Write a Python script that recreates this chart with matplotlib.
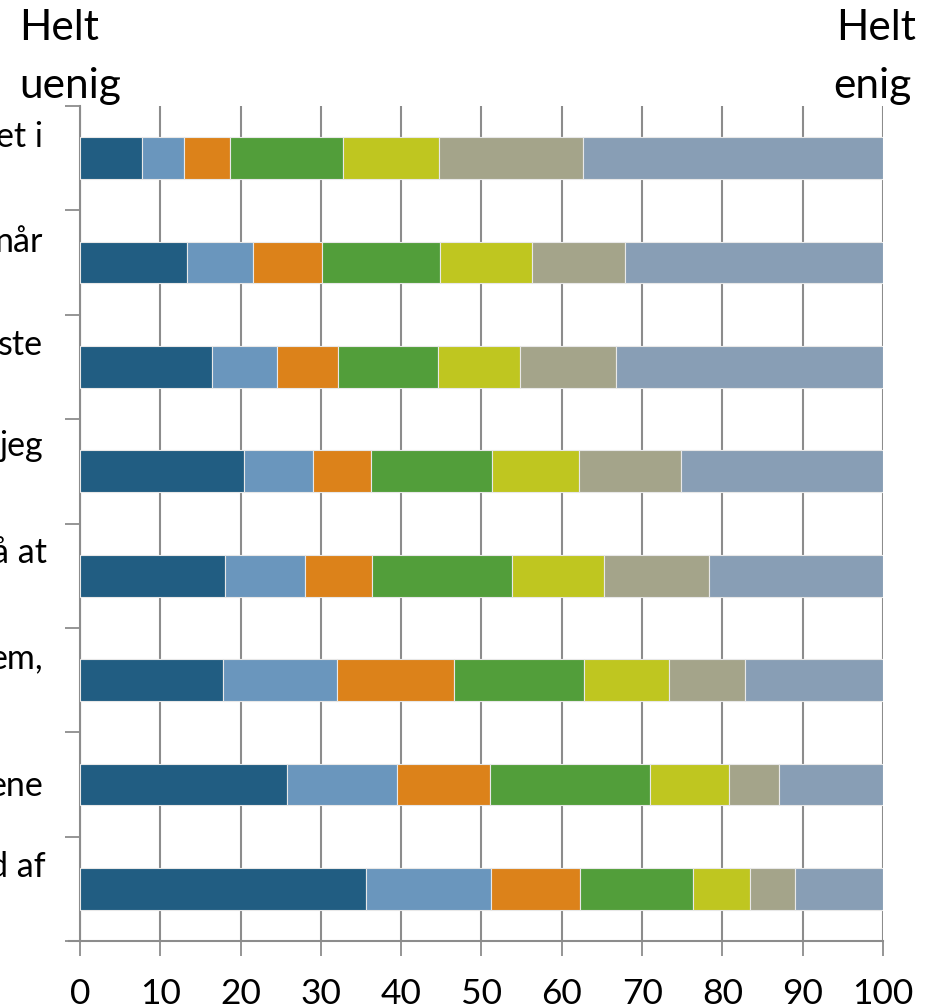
import matplotlib
matplotlib.use("Agg")
import matplotlib.pyplot as plt
import numpy as np

plt.rcParams["font.family"] = ["Lato", "DejaVu Sans"]

# answer shares per statement, from "helt uenig" to "helt enig" (percent)
row1 = [7.7, 5.3, 5.7, 14.0, 12.0, 17.9, 37.4]
row2 = [13.3, 8.3, 8.5, 14.7, 11.5, 11.6, 32.1]
row3 = [16.4, 8.1, 7.6, 12.5, 10.2, 11.9, 33.3]
row4 = [20.4, 8.6, 7.3, 15.0, 10.8, 12.7, 25.2]
row5 = [18.0, 10.0, 8.4, 17.4, 11.5, 13.0, 21.7]
row6 = [17.8, 14.2, 14.6, 16.2, 10.5, 9.5, 17.2]
row7 = [25.8, 13.7, 11.5, 20.0, 9.8, 6.3, 12.9]
row8 = [35.6, 15.6, 11.1, 14.0, 7.1, 5.6, 11.0]
rows = [row1, row2, row3, row4, row5, row6, row7, row8]

# what is left visible of each statement label at the left edge
labels = ["et i", "når", "ste", "jeg", "å at", "em,", "ene", "d af"]
label_dy = [11, 11, 12, 15, 13, 12, -12, 12]      # baseline shift above bar centre, px
label_dx = [-37, -37, -37, -37, -33, -37, -37, -34]  # right edge left of the axis, px

colors = ["#215d82", "#6a96bd", "#dc821a", "#529e3a",
          "#bfc620", "#a4a48a", "#889eb5"]
ticks = list(range(0, 101, 10))

GRID = "#8c8c8c"

fig = plt.figure(figsize=(9.32, 10.06), dpi=100)
ax = fig.add_axes([80 / 932, 1 - 941 / 1006, 803 / 932, 835 / 1006])

data = np.array(rows)
y = np.arange(len(rows))
left = np.zeros(len(rows))
for k in range(data.shape[1]):
    ax.barh(y, data[:, k], left=left, height=0.4, color=colors[k],
            edgecolor="#e8e8e8", linewidth=0.8, zorder=3)
    left += data[:, k]

ax.set_xlim(0, 100)
ax.set_ylim(len(rows) - 0.5, -0.5)
ax.set_xticks(ticks)
ax.set_xticklabels([str(t) for t in ticks], fontsize=25.5)
ax.set_yticks(np.arange(-0.5, len(rows), 1.0))
ax.set_yticklabels([])
ax.tick_params(axis="x", length=11, width=1.3, color=GRID, pad=16)
ax.tick_params(axis="y", length=11, width=1.3, color=GRID)
ax.xaxis.grid(True, color=GRID, lw=1.5, zorder=0)
ax.set_axisbelow(True)
for s in ("top", "right"):
    ax.spines[s].set_visible(False)
for s in ("left", "bottom"):
    ax.spines[s].set_color(GRID)
    ax.spines[s].set_linewidth(1.5)
ax.spines["bottom"].set_bounds(-1.4, 100)

for i, (lab, dx, dy) in enumerate(zip(labels, label_dx, label_dy)):
    ax.annotate(lab, xy=(0, i), xycoords=("axes fraction", "data"),
                xytext=(dx, dy), textcoords="offset pixels",
                ha="right", va="baseline", fontsize=24.5, annotation_clip=False)

# end-point captions above the scale
fig.text(19 / 932, 1 - 40 / 1006, "Helt", fontsize=30.5, ha="left", va="baseline")
fig.text(19 / 932, 1 - 98 / 1006, "uenig", fontsize=30.5, ha="left", va="baseline")
fig.text(836 / 932, 1 - 40 / 1006, "Helt", fontsize=30.5, ha="left", va="baseline")
fig.text(833 / 932, 1 - 98 / 1006, "enig", fontsize=30.5, ha="left", va="baseline")

fig.savefig("out.png", dpi=100, facecolor="white")
